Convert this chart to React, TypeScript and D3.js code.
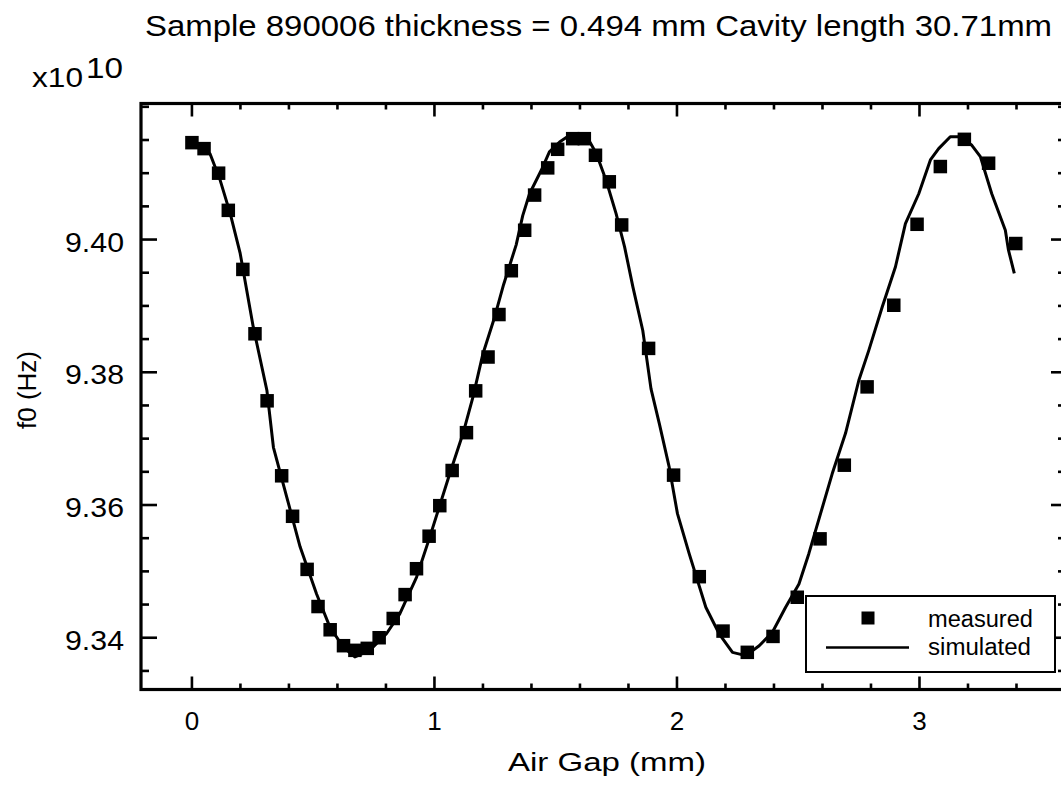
import React from "react";
import * as d3 from "d3";

const titleText = "Sample 890006 thickness = 0.494 mm  Cavity length 30.71mm";
const xTitle = "Air Gap  (mm)";
const yTitle = "f0  (Hz)";
const xMajorTicks = [0, 1, 2, 3];
const yMajorTicks = [9.34, 9.36, 9.38, 9.4];
const yTickLabels = ["9.34", "9.36", "9.38", "9.40"];
const legendLabels = ["measured", "simulated"];

// measured points: air gap (mm), f0 (x10^10 Hz)
const measuredX = [
  0.0, 0.05, 0.11, 0.15, 0.21, 0.26, 0.31, 0.37, 0.415, 0.475, 0.52, 0.57, 0.625, 0.672, 0.723, 0.772,
  0.83, 0.879, 0.926, 0.978, 1.022, 1.073, 1.132, 1.17, 1.221, 1.266, 1.317, 1.372, 1.413, 1.467, 1.508,
  1.57, 1.618, 1.664, 1.721, 1.772, 1.883, 1.986, 2.092, 2.19, 2.29, 2.396, 2.496, 2.59, 2.69, 2.784,
  2.894, 2.99, 3.086, 3.185, 3.285, 3.397,
];
const measuredY = [
  9.4146, 9.4137, 9.41, 9.4044, 9.3955, 9.3858, 9.3757, 9.3644, 9.3583, 9.3503, 9.3447, 9.3412, 9.3388,
  9.3381, 9.3384, 9.34, 9.3429, 9.3465, 9.3504, 9.3553, 9.3599, 9.3652, 9.3709, 9.3772, 9.3823, 9.3887,
  9.3953, 9.4014, 9.4067, 9.4108, 9.4136, 9.4152, 9.4152, 9.4127, 9.4087, 9.4022, 9.3836, 9.3645,
  9.3492, 9.341, 9.3378, 9.3402, 9.3461, 9.3549, 9.366, 9.3778, 9.3901, 9.4023, 9.411, 9.4151, 9.4115,
  9.3994,
];

// simulated curve
const simX = [
  0.0, 0.02, 0.075, 0.116, 0.158, 0.199, 0.253, 0.309, 0.336, 0.391, 0.446, 0.514, 0.569, 0.624, 0.672,
  0.733, 0.802, 0.857, 0.926, 0.981, 1.063, 1.118, 1.159, 1.2, 1.248, 1.285, 1.337, 1.364, 1.392, 1.44,
  1.474, 1.516, 1.557, 1.625, 1.667, 1.708, 1.749, 1.784, 1.818, 1.859, 1.893, 1.927, 1.968, 2.002, 2.05,
  2.119, 2.174, 2.229, 2.284, 2.339, 2.393, 2.448, 2.503, 2.544, 2.64, 2.695, 2.75, 2.791, 2.846, 2.901,
  2.942, 2.997, 3.045, 3.079, 3.127, 3.168, 3.216, 3.251, 3.298, 3.354, 3.367, 3.391,
];
const simY = [
  9.4146, 9.4145, 9.4129, 9.409, 9.4039, 9.3979, 9.3868, 9.3773, 9.3687, 9.3612, 9.3537, 9.3466, 9.3416,
  9.3386, 9.3371, 9.3381, 9.3406, 9.3436, 9.3491, 9.3552, 9.3647, 9.3708, 9.3763, 9.3828, 9.3883,
  9.3932, 9.3992, 9.4036, 9.4069, 9.4104, 9.4132, 9.4147, 9.4157, 9.4157, 9.413, 9.4089, 9.4039, 9.3989,
  9.3929, 9.3863, 9.3775, 9.3723, 9.3657, 9.3587, 9.3527, 9.3446, 9.3406, 9.3378, 9.3373, 9.3388,
  9.3408, 9.3446, 9.3481, 9.3527, 9.3647, 9.3708, 9.3788, 9.3833, 9.3898, 9.3959, 9.4024, 9.4069, 9.412,
  9.4137, 9.4155, 9.4155, 9.4142, 9.4125, 9.4069, 9.4014, 9.3984, 9.3949,
];

const W = 1061;
const H = 785;
const PL = 141;
const PR = 1065;
const PT = 103.5;
const PB = 689.5;
const FONT = "'Liberation Sans', Arial, Helvetica, sans-serif";

export default function App() {
  const x = d3.scaleLinear().domain([-0.21, 3.6]).range([PL, PR]);
  const y = d3.scaleLinear().domain([9.3322, 9.4205]).range([PB, PT]);

  const xMinor = d3.range(0, 3.61, 0.2).filter((v) => Math.abs(v - Math.round(v)) > 1e-6);
  const yMinor = d3
    .range(9.335, 9.4201, 0.005)
    .filter((v) => !yMajorTicks.some((m) => Math.abs(m - v) < 1e-6));

  const simPts: [number, number][] = simX.map((v, i) => [v, simY[i]]);
  const line = d3
    .line<[number, number]>()
    .x((d) => x(d[0]))
    .y((d) => y(d[1]))
    .curve(d3.curveLinear);

  const sq = 13.5;
  const ax = { stroke: "#000", strokeWidth: 2.6 };

  return (
    <svg
      width={W}
      height={H}
      viewBox={`0 0 ${W} ${H}`}
      style={{ position: "absolute", left: 0, top: 0, background: "#fff" }}
      fontFamily={FONT}
    >
      <rect x={0} y={0} width={W} height={H} fill="#fff" />
      {/* title */}
      <text x={145} y={36} fontSize={29} textLength={907} lengthAdjust="spacingAndGlyphs" fill="#000">
        {titleText}
      </text>
      {/* exponent */}
      <text x={32} y={87} fontSize={27} textLength={51} lengthAdjust="spacingAndGlyphs" fill="#000">
        x10
      </text>
      <text x={86} y={78} fontSize={29} textLength={37} lengthAdjust="spacingAndGlyphs" fill="#000">
        10
      </text>

      {/* frame */}
      <rect x={PL} y={PT} width={PR - PL} height={PB - PT} fill="none" stroke="#000" strokeWidth={3.2} />

      {/* x ticks bottom & top */}
      {xMajorTicks.map((v) => (
        <g key={"xm" + v}>
          <line x1={x(v)} x2={x(v)} y1={PB} y2={PB - 13} {...ax} />
          <line x1={x(v)} x2={x(v)} y1={PT} y2={PT + 13} {...ax} />
          <text x={x(v)} y={730} fontSize={26} textAnchor="middle" fill="#000">
            {String(v)}
          </text>
        </g>
      ))}
      {xMinor.map((v) => (
        <g key={"xn" + v}>
          <line x1={x(v)} x2={x(v)} y1={PB} y2={PB - 6} {...ax} />
          <line x1={x(v)} x2={x(v)} y1={PT} y2={PT + 6} {...ax} />
        </g>
      ))}

      {/* y ticks left & right */}
      {yMajorTicks.map((v, i) => (
        <g key={"ym" + v}>
          <line x1={PL} x2={PL + 16} y1={y(v)} y2={y(v)} {...ax} />
          <line x1={PR} x2={PR - 14} y1={y(v)} y2={y(v)} {...ax} />
          <text
            x={124}
            y={y(v) + 12}
            fontSize={27}
            textAnchor="end"
            textLength={59}
            lengthAdjust="spacingAndGlyphs"
            fill="#000"
          >
            {yTickLabels[i]}
          </text>
        </g>
      ))}
      {yMinor.map((v) => (
        <g key={"yn" + v}>
          <line x1={PL} x2={PL + 8} y1={y(v)} y2={y(v)} {...ax} />
          <line x1={PR} x2={PR - 7} y1={y(v)} y2={y(v)} {...ax} />
        </g>
      ))}

      {/* simulated curve */}
      <path d={line(simPts) || ""} fill="none" stroke="#000" strokeWidth={3} strokeLinejoin="round" />

      {/* measured squares */}
      {measuredX.map((v, i) => (
        <rect key={"m" + i} x={x(v) - sq / 2} y={y(measuredY[i]) - sq / 2} width={sq} height={sq} fill="#000" />
      ))}

      {/* legend */}
      <rect x={806} y={596} width={249} height={76} fill="#fff" stroke="#000" strokeWidth={2} />
      <rect x={868 - 6.5} y={618 - 6.5} width={13} height={13} fill="#000" />
      <text x={928} y={627} fontSize={23} textLength={105} lengthAdjust="spacingAndGlyphs" fill="#000">
        {legendLabels[0]}
      </text>
      <line x1={826} x2={909} y1={647.5} y2={647.5} stroke="#000" strokeWidth={2.4} />
      <text x={928} y={655} fontSize={23} textLength={103} lengthAdjust="spacingAndGlyphs" fill="#000">
        {legendLabels[1]}
      </text>

      {/* axis titles */}
      <text
        x={508}
        y={771}
        fontSize={25}
        textLength={198}
        lengthAdjust="spacingAndGlyphs"
        fill="#000"
      >
        {xTitle}
      </text>
      <text transform="translate(36,390) rotate(-90)" fontSize={26} textAnchor="middle" fill="#000">
        {yTitle}
      </text>
    </svg>
  );
}
